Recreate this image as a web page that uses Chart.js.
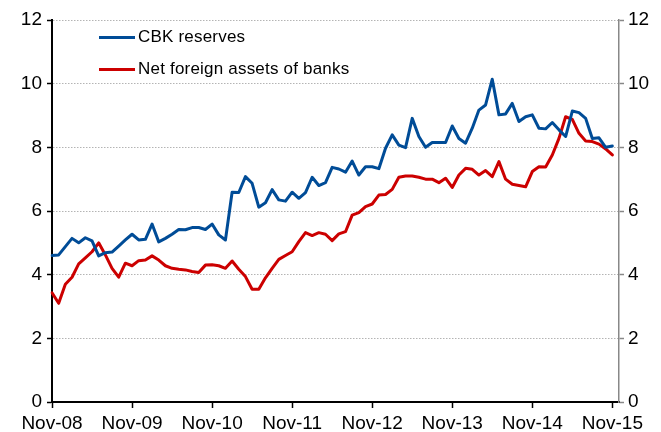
<!DOCTYPE html>
<html lang="en">
<head>
  <meta charset="UTF-8">
  <title>CBK reserves vs NFA of banks</title>
  <script src="https://cdn.jsdelivr.net/npm/chart.js"></script>
  <style>
    body { margin: 0; background: #fff; font-family: 'Liberation Sans', Arial, sans-serif; }
    #wrap { position: relative; width: 661px; height: 432px; }
    .key { position: absolute; left: 99px; width: 36px; height: 3px; }
    .key-text { position: absolute; left: 138px; font-size: 17px; line-height: 20px; color: #000; white-space: nowrap; letter-spacing: 0.2px; }
  </style>
</head>
<body>
  <div id="wrap">
    <canvas id="chart" width="661" height="432"></canvas>
    <div class="key" style="top:36px;background:#004c97"></div>
    <div class="key-text" style="top:27px">CBK reserves</div>
    <div class="key" style="top:68px;background:#cc0000"></div>
    <div class="key-text" style="top:59px">Net foreign assets of banks</div>
  </div>

  <script>
    // monthly, Nov-08 .. Dec-15 (last month has no data)
    const months = [
      'Nov-08','Dec-08','Jan-09','Feb-09','Mar-09','Apr-09','May-09','Jun-09','Jul-09','Aug-09','Sep-09','Oct-09',
      'Nov-09','Dec-09','Jan-10','Feb-10','Mar-10','Apr-10','May-10','Jun-10','Jul-10','Aug-10','Sep-10','Oct-10',
      'Nov-10','Dec-10','Jan-11','Feb-11','Mar-11','Apr-11','May-11','Jun-11','Jul-11','Aug-11','Sep-11','Oct-11',
      'Nov-11','Dec-11','Jan-12','Feb-12','Mar-12','Apr-12','May-12','Jun-12','Jul-12','Aug-12','Sep-12','Oct-12',
      'Nov-12','Dec-12','Jan-13','Feb-13','Mar-13','Apr-13','May-13','Jun-13','Jul-13','Aug-13','Sep-13','Oct-13',
      'Nov-13','Dec-13','Jan-14','Feb-14','Mar-14','Apr-14','May-14','Jun-14','Jul-14','Aug-14','Sep-14','Oct-14',
      'Nov-14','Dec-14','Jan-15','Feb-15','Mar-15','Apr-15','May-15','Jun-15','Jul-15','Aug-15','Sep-15','Oct-15',
      'Nov-15','Dec-15'
    ];

    const cbkReserves = [
      4.60, 4.62, 4.88, 5.14, 5.00, 5.16, 5.06, 4.59, 4.69, 4.71, 4.90, 5.09,
      5.27, 5.09, 5.11, 5.59, 5.03, 5.14, 5.27, 5.42, 5.41, 5.48, 5.48, 5.42,
      5.59, 5.25, 5.09, 6.59, 6.58, 7.08, 6.87, 6.12, 6.26, 6.67, 6.35, 6.31,
      6.59, 6.40, 6.58, 7.06, 6.80, 6.89, 7.37, 7.32, 7.22, 7.57, 7.13, 7.39,
      7.39, 7.33, 7.97, 8.39, 8.07, 7.99, 8.91, 8.34, 8.00, 8.15, 8.15, 8.15,
      8.67, 8.28, 8.13, 8.60, 9.17, 9.33, 10.14, 9.02, 9.05, 9.38, 8.81, 8.96,
      9.02, 8.60, 8.58, 8.78, 8.55, 8.34, 9.14, 9.09, 8.91, 8.28, 8.30, 8.00,
      8.04
    ];

    const nfaBanks = [
      3.43, 3.10, 3.70, 3.92, 4.34, 4.53, 4.72, 5.00, 4.62, 4.20, 3.92, 4.36,
      4.28, 4.44, 4.46, 4.59, 4.46, 4.28, 4.20, 4.17, 4.15, 4.10, 4.07, 4.30,
      4.31, 4.28, 4.20, 4.43, 4.17, 3.94, 3.54, 3.54, 3.90, 4.20, 4.48, 4.60,
      4.72, 5.04, 5.32, 5.23, 5.32, 5.27, 5.07, 5.28, 5.35, 5.87, 5.95, 6.14,
      6.22, 6.50, 6.52, 6.68, 7.06, 7.10, 7.10, 7.06, 7.00, 7.00, 6.89, 7.03,
      6.74, 7.13, 7.34, 7.31, 7.13, 7.27, 7.08, 7.55, 7.00, 6.84, 6.80, 6.76,
      7.24, 7.39, 7.38, 7.76, 8.28, 8.96, 8.88, 8.44, 8.20, 8.18, 8.10, 7.95,
      7.76
    ];

    const yMin = 0, yMax = 12, yStep = 2;

    const fontFam = "'Liberation Sans', Arial, sans-serif";
    const tickFont = { family: fontFam, size: 19 };

    const ctx = document.getElementById('chart');
    const chart = new Chart(ctx, {
      type: 'line',
      data: {
        labels: months,
        datasets: [
          { label: 'CBK reserves', data: cbkReserves, borderColor: '#004c97', yAxisID: 'y' },
          { label: 'Net foreign assets of banks', data: nfaBanks, borderColor: '#cc0000', yAxisID: 'y' }
        ]
      },
      options: {
        responsive: false,
        animation: false,
        layout: { padding: { top: 20, left: 0, right: 0, bottom: 0 } },
        elements: {
          point: { radius: 0 },
          line: { borderWidth: 3, tension: 0, fill: false, borderCapStyle: 'round', borderJoinStyle: 'round' }
        },
        plugins: {
          legend: { display: false },
          tooltip: { enabled: false }
        },
        scales: {
          x: {
            type: 'category',
            offset: false,
            grid: { drawOnChartArea: false, drawTicks: true, tickLength: 6, tickColor: '#000', tickWidth: 1.5 },
            border: { color: '#000', width: 2 },
            ticks: {
              autoSkip: false, maxRotation: 0, minRotation: 0, padding: 4,
              color: '#000', font: tickFont,
              callback: function (v, i) {
                const l = months[i];
                return l.startsWith('Nov') ? l : null;
              }
            },
            afterFit: function (s) { s.height = 30; }
          },
          y: {
            position: 'left',
            min: yMin, max: yMax,
            ticks: { stepSize: yStep, padding: 5, color: '#000', font: tickFont },
            grid: {
              color: function (c) { return (c.tick && c.tick.value === 0) ? 'rgba(0,0,0,0)' : '#b4b4b4'; },
              lineWidth: 1, tickColor: '#000', tickLength: 5, tickWidth: 1.5
            },
            border: { color: '#000', width: 2, dash: [1.5, 1.5] },
            afterFit: function (s) { s.width = 52; }
          },
          y2: {
            position: 'right',
            min: yMin, max: yMax,
            ticks: { stepSize: yStep, padding: 4, color: '#000', font: tickFont },
            grid: { drawOnChartArea: false, tickColor: '#888', tickLength: 5, tickWidth: 1.5 },
            border: { color: '#888', width: 1.5 },
            afterFit: function (s) { s.width = 42; }
          }
        }
      }
    });
  </script>
</body>
</html>
